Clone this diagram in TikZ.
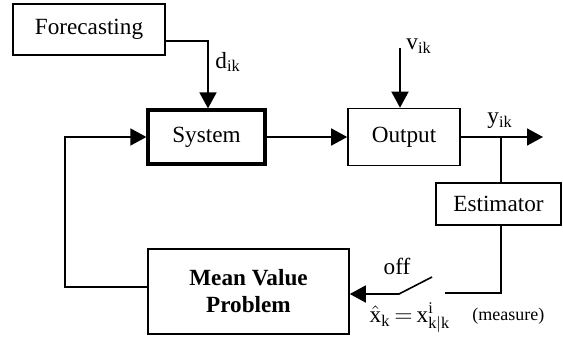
\documentclass[tikz,border=0pt]{standalone}
\usepackage{fontspec}
\setmainfont{Liberation Serif}
\usepackage{tikz}
\usetikzlibrary{arrows.meta,positioning}

\tikzset{
  blockbox/.style={draw,line width=0.8pt,inner sep=2pt,align=center},
  arr/.style={line width=0.8pt,-{Triangle[length=8pt,width=8.5pt]}},
  wire/.style={line width=0.8pt}
}

\begin{document}
\begin{tikzpicture}[x=0.5pt,y=-0.5pt,font=\fontsize{11.6}{13.5}\selectfont]
        \useasboundingbox (0,0) rectangle (563,338);
        % blocks
        \node[blockbox,minimum width=76pt,minimum height=25.5pt] (fore) at (89,29.5) {Forecasting};
        \node[blockbox,line width=1.6pt,minimum width=58.5pt,minimum height=27pt] (sys) at (206.5,137) {System};
        \node[blockbox,minimum width=56pt,minimum height=28.5pt] (out) at (404,137) {Output};
        \node[blockbox,minimum width=62.5pt,minimum height=21pt] (est) at (498.5,204) {Estimator};
        \node[blockbox,minimum width=100.5pt,minimum height=42.5pt,font=\fontsize{11.6}{13.5}\selectfont\bfseries] (mvp) at (248.5,291.5) {Mean Value\\Problem};

        % free ends
        \coordinate (fd) at (208,41);
        \coordinate (vin) at (400,48);
        \coordinate (yout) at (543,137);
        \coordinate (tap) at (501,137);
        \coordinate (sw1) at (445,293);
        \coordinate (sw2) at (432,277);
        \coordinate (sw3) at (399,294);
        \coordinate (fb) at (65,287);

        % connectors
        \draw[arr] (fore.east |- fd) -| (sys.north -| fd);
        \draw[arr] (vin) -- (out.north -| vin);
        \draw[arr] (sys.east) -- (out.west);
        \draw[arr] (out.east) -- (yout);
        \draw[wire] (tap) -- (est.north -| tap);
        \draw[wire] (est.south -| tap) |- (sw1);
        \draw[arr] (sw2) -- (sw3) -- (mvp.east |- sw3);
        \draw[arr] (mvp.west |- fb) -- (fb) |- (sys.west);

        % labels
        \node[anchor=west,inner sep=0pt] (dlab) at (215,62) {d\textsubscript{ik}};
        \node[anchor=west,inner sep=0pt] (vlab) at (406,46) {v\textsubscript{ik}};
        \node[anchor=west,inner sep=0pt] (ylab) at (487,121) {y\textsubscript{ik}};
        \node[inner sep=0pt] (offlab) at (397,266) {off};
        \node[inner sep=0pt] (xlab) at (410,318) {$\hat{\mathrm{x}}_{\mathrm{k}}\,{=}\,\mathrm{x}^{\mathrm{i}}_{\mathrm{k|k}}$};
        \node[anchor=west,inner sep=0pt,font=\fontsize{9}{11}\selectfont] (mlab) at (472,316) {(measure)};
      \end{tikzpicture}
\end{document}
